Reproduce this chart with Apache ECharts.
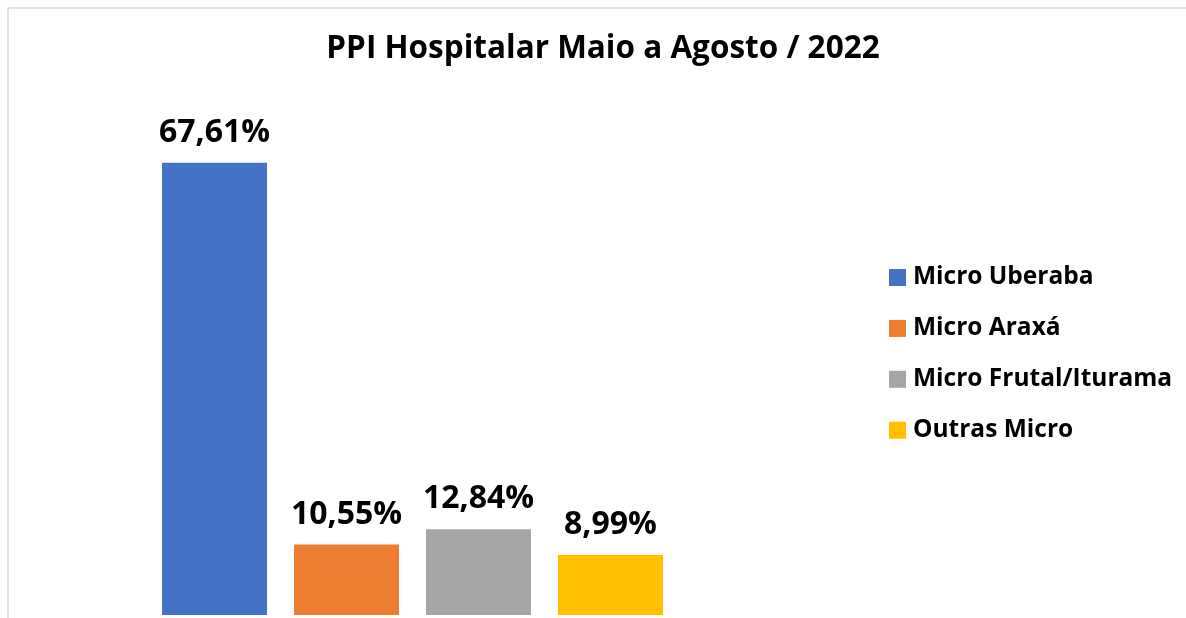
<!DOCTYPE html>
<html>
<head>
<meta charset="utf-8">
<script src="https://cdn.jsdelivr.net/npm/echarts@6/dist/echarts.min.js"></script>
<style>
html,body{margin:0;padding:0;background:#fff;}
#chart{width:1186px;height:618px;}
</style>
</head>
<body>
<div id="chart"></div>
<script>
const titleText = 'PPI Hospitalar Maio a Agosto / 2022';
const seriesNames = ['Micro Uberaba', 'Micro Araxá', 'Micro Frutal/Iturama', 'Outras Micro'];
const seriesValues = [67.61, 10.55, 12.84, 8.99];
const seriesColors = ['#4472C4', '#ED7D31', '#A5A5A5', '#FFC000'];
const categories = [''];

const FONT = '"Open Sans", sans-serif';
const chart = echarts.init(document.getElementById('chart'));
const series = seriesNames.map((name, i) => ({
  name: name,
  type: 'bar',
  data: [seriesValues[i]],
  barWidth: 105,
  barGap: '25.7%',
  itemStyle: { color: seriesColors[i] },
  label: {
    show: true,
    position: 'top',
    distance: 14,
    fontFamily: FONT,
    fontWeight: 'bold',
    fontSize: 32,
    color: '#000',
    formatter: p => p.value.toFixed(2).replace('.', ',') + '%'
  }
}));

chart.setOption({
  animation: false,
  backgroundColor: '#fff',
  title: {
    text: titleText,
    left: 598,
    textAlign: 'center',
    top: 28,
    textStyle: { fontFamily: FONT, fontWeight: 'bold', fontSize: 31.5, color: '#000' }
  },
  legend: {
    data: seriesNames,
    orient: 'vertical',
    left: 884,
    top: 260,
    itemWidth: 17,
    itemHeight: 17,
    itemGap: 25.9,
    icon: 'rect',
    textStyle: { fontFamily: FONT, fontWeight: 'bold', fontSize: 24.5, color: '#000', padding: [0,0,0,2] }
  },
  grid: { left: 100, right: 461, top: 80, bottom: 3 },
  xAxis: {
    type: 'category',
    data: categories,
    axisLine: { show: false },
    axisTick: { show: false },
    axisLabel: { show: false }
  },
  yAxis: {
    type: 'value',
    min: 0,
    max: 80,
    show: false,
    splitLine: { show: false }
  },
  graphic: [{
    type: 'rect',
    silent: true,
    z: -10,
    shape: { x: 8, y: 8, width: 1400, height: 800 },
    style: { fill: 'none', stroke: '#d9d9d9', lineWidth: 1.5 }
  }],
  series: series
});
</script>
</body>
</html>
